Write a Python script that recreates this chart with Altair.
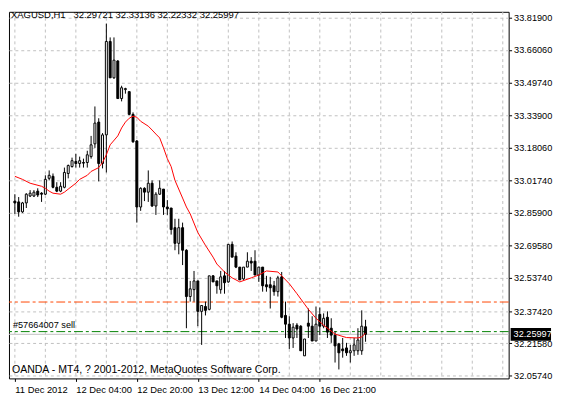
import altair as alt
import pandas as pd

# ---------------- data ----------------
open_ = [32.916, 32.912, 32.863, 32.907, 32.941, 32.941, 32.965, 32.955, 32.950, 33.028,
         33.038, 32.984, 32.965, 32.984, 33.052, 33.086, 33.111, 33.101, 33.106, 33.106,
         33.135, 33.198, 33.305, 33.101, 33.242, 33.702, 33.523, 33.606, 33.421, 33.465,
         33.455, 33.343, 33.212, 32.887, 32.979, 32.960, 33.004, 32.892, 32.950, 32.975,
         32.887, 32.882, 32.785, 32.708, 32.785, 32.674, 32.446, 32.480, 32.523, 32.373,
         32.397, 32.383, 32.548, 32.523, 32.480, 32.548, 32.518, 32.703, 32.645, 32.591,
         32.533, 32.591, 32.620, 32.620, 32.552, 32.591, 32.504, 32.504, 32.499, 32.470,
         32.543, 32.353, 32.310, 32.242, 32.305, 32.300, 32.154, 32.315, 32.300, 32.227,
         32.358, 32.300, 32.344, 32.290, 32.256, 32.213, 32.188, 32.193, 32.169, 32.179,
         32.179, 32.179, 32.29721]
high = [32.950, 32.936, 32.912, 32.955, 32.970, 32.970, 32.979, 32.960, 33.043, 33.067,
        33.052, 33.009, 33.009, 33.081, 33.096, 33.130, 33.149, 33.135, 33.125, 33.164,
        33.237, 33.382, 33.324, 33.251, 33.790, 33.722, 33.722, 33.610, 33.484, 33.474,
        33.455, 33.353, 33.217, 32.984, 32.984, 33.067, 33.018, 32.960, 33.018, 32.975,
        32.921, 32.882, 32.829, 32.829, 32.810, 32.679, 32.523, 32.572, 32.523, 32.402,
        32.421, 32.548, 32.552, 32.523, 32.572, 32.572, 32.703, 32.717, 32.664, 32.591,
        32.591, 32.664, 32.640, 32.674, 32.591, 32.591, 32.548, 32.543, 32.523, 32.548,
        32.567, 32.421, 32.349, 32.315, 32.315, 32.305, 32.237, 32.387, 32.349, 32.397,
        32.392, 32.363, 32.373, 32.339, 32.276, 32.218, 32.242, 32.218, 32.208, 32.242,
        32.290, 32.378, 32.33136]
low = [32.853, 32.839, 32.858, 32.882, 32.936, 32.936, 32.936, 32.912, 32.946, 33.018,
       32.979, 32.960, 32.960, 32.979, 33.028, 33.081, 33.081, 33.081, 33.081, 33.081,
       33.125, 33.178, 33.013, 33.077, 33.057, 33.523, 33.518, 33.421, 33.407, 33.445,
       33.339, 33.203, 32.810, 32.868, 32.916, 32.912, 32.887, 32.848, 32.946, 32.848,
       32.848, 32.751, 32.674, 32.654, 32.601, 32.290, 32.421, 32.421, 32.300, 32.208,
       32.353, 32.378, 32.518, 32.460, 32.460, 32.460, 32.514, 32.640, 32.586, 32.528,
       32.528, 32.591, 32.572, 32.552, 32.518, 32.470, 32.470, 32.387, 32.450, 32.446,
       32.339, 32.242, 32.188, 32.193, 32.242, 32.179, 32.154, 32.242, 32.227, 32.227,
       32.256, 32.290, 32.242, 32.218, 32.121, 32.087, 32.145, 32.154, 32.121, 32.154,
       32.159, 32.159, 32.22332]
close = [32.907, 32.863, 32.907, 32.950, 32.955, 32.960, 32.946, 32.950, 33.023, 33.043,
         32.984, 32.965, 32.989, 33.057, 33.091, 33.115, 33.101, 33.115, 33.103, 33.144,
         33.193, 33.300, 33.101, 33.242, 33.702, 33.523, 33.610, 33.421, 33.474, 33.470,
         33.343, 33.208, 32.887, 32.979, 32.960, 33.004, 32.892, 32.950, 32.979, 32.887,
         32.878, 32.776, 32.708, 32.785, 32.674, 32.446, 32.484, 32.523, 32.373, 32.402,
         32.378, 32.548, 32.518, 32.499, 32.543, 32.514, 32.703, 32.640, 32.591, 32.528,
         32.591, 32.620, 32.611, 32.552, 32.591, 32.499, 32.494, 32.489, 32.470, 32.538,
         32.344, 32.310, 32.242, 32.295, 32.286, 32.179, 32.237, 32.300, 32.227, 32.310,
         32.300, 32.339, 32.271, 32.256, 32.203, 32.169, 32.179, 32.169, 32.179, 32.208,
         32.232, 32.300, 32.25997]

ma_bar = [0, 2, 4, 7, 8, 9, 10, 12, 13, 14, 16, 17, 19, 20, 22, 23, 24, 25, 27, 28,
          29, 30, 31, 32, 33, 35, 36, 37, 38, 39, 40, 41, 42, 44, 45, 46, 48, 50, 52, 53,
          55, 57, 59, 62, 64, 66, 69, 70, 72, 74, 77, 79, 81, 84, 87, 90, 91, 92]
ma_val = [33.038, 33.023, 33.004, 32.989, 32.979, 32.965, 32.955, 32.950, 32.960, 32.975,
          33.004, 33.023, 33.043, 33.062, 33.081, 33.106, 33.144, 33.193, 33.237, 33.276,
          33.305, 33.324, 33.334, 33.329, 33.309, 33.285, 33.266, 33.246, 33.227, 33.178,
          33.125, 33.086, 33.018, 32.931, 32.887, 32.853, 32.761, 32.698, 32.640, 32.606,
          32.567, 32.538, 32.518, 32.538, 32.552, 32.572, 32.567, 32.548, 32.509, 32.460,
          32.383, 32.339, 32.305, 32.261, 32.244, 32.242, 32.247, 32.266]

y_ticks = [33.819, 33.6606, 33.4974, 33.339, 33.1806, 33.0174, 32.859, 32.6958,
           32.5374, 32.3742, 32.2158, 32.0574]
x_tick_bars = [0, 16, 32, 48, 64, 80]
x_tick_labels = ["11 Dec 2012", "12 Dec 04:00", "12 Dec 20:00", "13 Dec 12:00",
                 "14 Dec 04:00", "16 Dec 21:00"]
grid_bars = list(range(0, 129, 8))

stop_level = 32.419
order_level = 32.2733
bid = 32.25997
header = "XAGUSD,H1\u00a0\u00a0 32.29721 32.33136 32.22332 32.25997"
order_label = "#57664007 sell"
copyright_text = "OANDA - MT4, ? 2001-2012, MetaQuotes Software Corp."

# ---------------- layout ----------------
W, H = 507, 372
y_dom = [32.0428, 33.8481]
x_dom = [-0.25, 128.25]
FONT = "Liberation Sans"

candles = pd.DataFrame({
    "bar": list(range(len(open_))), "open": open_, "high": high, "low": low, "close": close,
})
candles["dir"] = ["up" if c >= o else "down" for o, c in zip(open_, close)]
ma_df = pd.DataFrame({"bar": ma_bar, "ma": ma_val})
grid_df = pd.DataFrame({"bar": grid_bars})
px = (y_dom[1] - y_dom[0]) / H
box_df = pd.DataFrame({"top": [bid + 6.5 * px], "bottom": [bid - 6.5 * px], "p": [bid],
                       "t": [f"{bid:.5f}"]})
one = pd.DataFrame({"a": [0]})

label_expr = "''"
for b, t in reversed(list(zip(x_tick_bars, x_tick_labels))):
    label_expr = f"datum.value == {b} ? '{t}' : ({label_expr})"

xs = alt.Scale(domain=x_dom, nice=False, zero=False)
ys = alt.Scale(domain=y_dom, nice=False, zero=False)
x_axis = alt.Axis(values=x_tick_bars, labelExpr=label_expr, grid=False, tickSize=3,
                  labelAlign="left", labelPadding=3, labelFontSize=9.5, domain=False,
                  labelOverlap=False, labelFlush=False, labelBound=False, title=None)
y_axis = alt.Axis(orient="right", values=y_ticks, format=".5f", tickSize=3, labelPadding=2,
                  labelFontSize=9.3, grid=True, gridDash=[3, 3], gridColor="#C0C0C0",
                  domain=False, labelOverlap=False, labelFlush=False, labelBound=False,
                  title=None)


def X(f="bar"):
    return alt.X(f"{f}:Q", scale=xs, axis=x_axis)


def Y(f):
    return alt.Y(f"{f}:Q", scale=ys, axis=y_axis)


vgrid = alt.Chart(grid_df).mark_rule(color="#C0C0C0", strokeDash=[3, 3], strokeWidth=1).encode(
    x=X())

stop_rule = alt.Chart(pd.DataFrame({"p": [stop_level]})).mark_rule(
    color="#FF4500", strokeDash=[9, 3, 3, 3], strokeWidth=1).encode(y=Y("p"))
order_rule = alt.Chart(pd.DataFrame({"p": [order_level]})).mark_rule(
    color="#008000", strokeDash=[9, 3, 3, 3], strokeWidth=1).encode(y=Y("p"))
bid_rule = alt.Chart(pd.DataFrame({"p": [bid]})).mark_rule(
    color="#C0C0C0", strokeWidth=1).encode(y=Y("p"))

wicks = alt.Chart(candles).mark_rule(color="black", strokeWidth=1).encode(
    x=X(), y=Y("low"), y2="high:Q")
bodies = alt.Chart(candles).mark_bar(size=2, stroke="black", strokeWidth=1).encode(
    x=X(), y=Y("open"), y2="close:Q",
    fill=alt.Fill("dir:N", scale=alt.Scale(domain=["up", "down"], range=["white", "black"]),
                  legend=None))

ma_line = alt.Chart(ma_df).mark_line(color="#FF0000", strokeWidth=1).encode(
    x=X(), y=Y("ma"))

sell_text = alt.Chart(pd.DataFrame({"p": [order_level], "t": [order_label]})).mark_text(
    align="left", baseline="bottom", dy=-2, fontSize=9.3, font=FONT, color="black").encode(
    x=alt.value(4), y=Y("p"), text="t:N")

box = alt.Chart(box_df).mark_rect(color="black").encode(
    x=alt.value(509), x2=alt.value(550), y=Y("top"), y2="bottom:Q")
box_text = alt.Chart(box_df).mark_text(
    align="left", baseline="middle", fontSize=9.3, font=FONT, color="white").encode(
    x=alt.value(512), y=Y("p"), text="t:N")

head = alt.Chart(one).mark_text(
    align="left", baseline="alphabetic", fontSize=9.6, font=FONT, color="black",
    text=header).encode(x=alt.value(2), y=alt.value(6))
copy_txt = alt.Chart(one).mark_text(
    align="left", baseline="alphabetic", fontSize=10.7, font=FONT, color="black",
    text=copyright_text).encode(x=alt.value(3), y=alt.value(367))

chart = alt.layer(
    vgrid, stop_rule, order_rule, bid_rule, wicks, bodies, ma_line,
    sell_text, box, box_text, head, copy_txt
).properties(
    width=W, height=H,
    autosize=alt.AutoSizeParams(type="none"),
    padding={"left": 1, "top": 1, "right": 45, "bottom": 17},
    background="white",
).configure_view(
    stroke="black", strokeWidth=1
).configure_axis(
    labelFont=FONT, labelColor="black", tickColor="black", domainColor="black"
)

chart.save("out.html", embed_options={"renderer": "svg", "actions": False})
